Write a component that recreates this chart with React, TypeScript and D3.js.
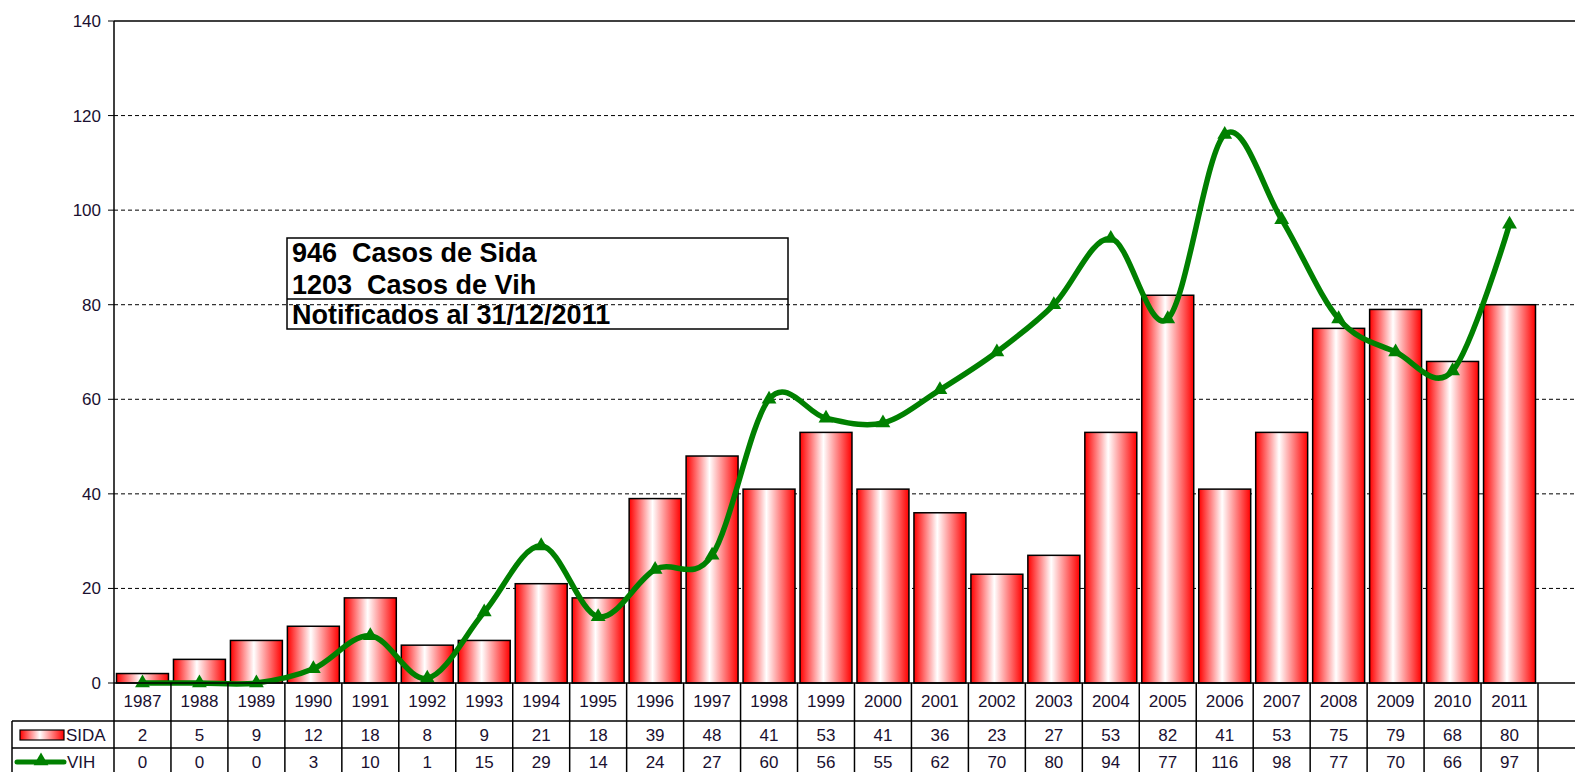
import React from "react";
import * as d3 from "d3";

const years = ["1987","1988","1989","1990","1991","1992","1993","1994","1995","1996","1997","1998","1999","2000","2001","2002","2003","2004","2005","2006","2007","2008","2009","2010","2011"];
const sida = [2,5,9,12,18,8,9,21,18,39,48,41,53,41,36,23,27,53,82,41,53,75,79,68,80];
const vih = [0,0,0,3,10,1,15,29,14,24,27,60,56,55,62,70,80,94,77,116,98,77,70,66,97];
const yTicks = [0,20,40,60,80,100,120,140];
const boxLines = ["946  Casos de Sida","1203  Casos de Vih","Notificados al 31/12/2011"];

const W = 1575, H = 772;
const FONT = "'Liberation Sans', Arial, sans-serif";

export default function App() {
  const x = d3.scaleBand<string>().domain(years).range([114, 1538]).paddingInner(0.088).paddingOuter(0.044);
  const y = d3.scaleLinear().domain([0, 140]).range([683, 21]);
  const step = x.step();
  const colStart = (i: number) => 114 + i * step;
  const cx = (i: number) => (x(years[i]) as number) + x.bandwidth() / 2;

  const line = d3.line<number>()
    .x((_, i) => cx(i))
    .y((d) => y(d))
    .curve(d3.curveCardinal.tension(0));
  const tri = d3.symbol().type(d3.symbolTriangle).size(95)() as string;

  return (
    <div style={{ position: "fixed", left: 0, top: 0 }}>
      <svg width={W} height={H} style={{ display: "block", background: "#fff" }} fontFamily={FONT}>
        <defs>
          <linearGradient id="barGrad" x1="0" x2="1" y1="0" y2="0">
            <stop offset="0%" stopColor="#ff0000" />
            <stop offset="45%" stopColor="#ffffff" />
            <stop offset="100%" stopColor="#ff0000" />
          </linearGradient>
        </defs>
        <rect x={0} y={0} width={W} height={H} fill="#fff" />
        {/* gridlines */}
        {yTicks.filter((t) => t > 0 && t < 140).map((t) => (
          <line key={t} x1={114} x2={W} y1={y(t)} y2={y(t)} stroke="#000" strokeWidth={1} strokeDasharray="4,3" />
        ))}
        <line x1={114} x2={W} y1={y(140)} y2={y(140)} stroke="#000" strokeWidth={1.5} />
        {/* y axis */}
        <line x1={114} x2={114} y1={y(140)} y2={H} stroke="#000" strokeWidth={1.5} />
        {yTicks.map((t) => (
          <g key={t}>
            <line x1={108} x2={114} y1={y(t)} y2={y(t)} stroke="#000" strokeWidth={1} />
            <text x={101} y={y(t)} dy="0.35em" textAnchor="end" fontSize={17} fill="#1a1030">{t}</text>
          </g>
        ))}
        {/* bars */}
        {sida.map((v, i) => (
          <rect key={years[i]} x={x(years[i])} y={y(v)} width={x.bandwidth()} height={y(0) - y(v)}
            fill="url(#barGrad)" stroke="#000" strokeWidth={1.5} />
        ))}
        {/* text box */}
        <rect x={287} y={238} width={501} height={91} fill="none" stroke="#000" strokeWidth={1.5} />
        <line x1={287} x2={788} y1={299} y2={299} stroke="#000" strokeWidth={1.5} />
        {boxLines.map((s, i) => (
          <text key={i} x={292} y={[262, 294, 324][i]} fontSize={27} fontWeight="bold" fill="#000"
            style={{ whiteSpace: "pre" }}>{s}</text>
        ))}
        {/* line */}
        <path d={line(vih) as string} fill="none" stroke="#008000" strokeWidth={5.5} strokeLinejoin="round" />
        {vih.map((v, i) => (
          <path key={years[i]} d={tri} transform={`translate(${cx(i)},${y(v)})`} fill="#008000" />
        ))}
        {/* data table */}
        <line x1={114} x2={W} y1={683} y2={683} stroke="#000" strokeWidth={1.5} />
        <line x1={12} x2={W} y1={721} y2={721} stroke="#000" strokeWidth={1.5} />
        <line x1={12} x2={W} y1={748} y2={748} stroke="#000" strokeWidth={1.5} />
        <line x1={12} x2={12} y1={721} y2={H} stroke="#000" strokeWidth={1.5} />
        {years.map((yr, i) => (
          <line key={yr} x1={colStart(i + 1)} x2={colStart(i + 1)} y1={683} y2={H} stroke="#000" strokeWidth={1.5} />
        ))}
        {years.map((yr, i) => (
          <g key={yr} fontSize={17} textAnchor="middle" fill="#1a1030">
            <text x={cx(i)} y={701} dy="0.35em">{yr}</text>
            <text x={cx(i)} y={735} dy="0.35em">{sida[i]}</text>
            <text x={cx(i)} y={762} dy="0.35em">{vih[i]}</text>
          </g>
        ))}
        {/* legend keys */}
        <rect x={20} y={730} width={44} height={10} fill="url(#barGrad)" stroke="#000" strokeWidth={1.2} />
        <text x={66} y={735} dy="0.35em" fontSize={17} fill="#1a1030">SIDA</text>
        <line x1={17} x2={64} y1={762} y2={762} stroke="#008000" strokeWidth={5} strokeLinecap="round" />
        <path d={tri} transform="translate(41,761)" fill="#008000" />
        <text x={67} y={762} dy="0.35em" fontSize={17} fill="#1a1030">VIH</text>
      </svg>
    </div>
  );
}
